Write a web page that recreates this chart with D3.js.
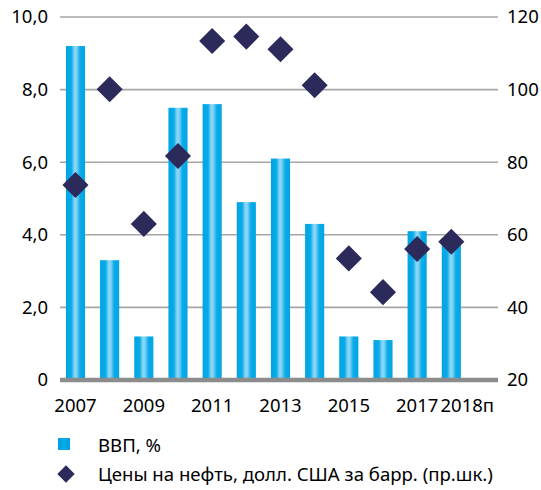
<!DOCTYPE html>
<html>
<head>
<meta charset="utf-8">
<script src="https://cdn.jsdelivr.net/npm/d3@7"></script>
<style>
  html, body { margin: 0; padding: 0; background: #fff; }
  svg { display: block; font-family: "Noto Sans", "Open Sans", sans-serif; }
</style>
</head>
<body>
<svg id="chart" width="541" height="490"></svg>
<script>
const years = ["2007","2008","2009","2010","2011","2012","2013","2014","2015","2016","2017","2018п"];
const gdp = [9.2, 3.3, 1.2, 7.5, 7.6, 4.9, 6.1, 4.3, 1.2, 1.1, 4.1, 3.9];
const oil = [73.7, 100.1, 63.0, 81.7, 113.4, 114.6, 111.1, 101.2, 53.5, 44.2, 56.1, 58.1];
const leftTicks = [0, 2, 4, 6, 8, 10];
const rightTicks = [20, 40, 60, 80, 100, 120];
const shownLabels = ["2007","2009","2011","2013","2015","2017","2018п"];
const legendLabels = ["ВВП, %", "Цены на нефть, долл. США за барр. (пр.шк.)"];

const svg = d3.select("#chart");
const plotLeft = 60, plotRight = 498, plotTop = 17, plotBottom = 380;

const x = d3.scaleBand().domain(years).range([58.4, 468.4]).paddingInner(0.44).paddingOuter(0.22);
const yL = d3.scaleLinear().domain([0, 10]).range([plotBottom, plotTop]);
const yR = d3.scaleLinear().domain([20, 120]).range([plotBottom, plotTop]);

// gradient for bars
const defs = svg.append("defs");
const grad = defs.append("linearGradient").attr("id", "barGrad").attr("x1", "0%").attr("x2", "100%").attr("y1", "0%").attr("y2", "0%");
[[0, "#00a5e5"], [0.28, "#08aae8"], [0.46, "#8ed8f7"], [0.56, "#7fd2f4"], [0.74, "#0aabe8"], [1, "#00a5e5"]]
  .forEach(([o, c]) => grad.append("stop").attr("offset", o).attr("stop-color", c));

// gridlines
const fmt = v => v === 0 ? "0" : d3.format(".1f")(v).replace(".", ",");
svg.append("g").selectAll("line").data(leftTicks.filter(t => t !== 0)).join("line")
  .attr("x1", plotLeft).attr("x2", plotRight)
  .attr("y1", d => yL(d)).attr("y2", d => yL(d))
  .attr("stroke", "#a6a6a6").attr("stroke-width", 1.6);

// left axis labels
svg.append("g").selectAll("text").data(leftTicks).join("text")
  .attr("x", 48).attr("y", d => yL(d)).attr("dy", "0.35em")
  .attr("text-anchor", "end").attr("font-size", 18.5).attr("fill", "#000")
  .text(fmt);

// right axis labels
svg.append("g").selectAll("text").data(rightTicks).join("text")
  .attr("x", 507).attr("y", d => yR(d)).attr("dy", "0.35em")
  .attr("text-anchor", "start").attr("font-size", 18.5).attr("fill", "#000")
  .text(d => d);

// bars
svg.append("g").selectAll("rect").data(years).join("rect")
  .attr("x", d => x(d)).attr("width", x.bandwidth())
  .attr("y", (d, i) => yL(gdp[i])).attr("height", (d, i) => yL(0) - yL(gdp[i]))
  .attr("fill", "url(#barGrad)");

// baseline axis
svg.append("line").attr("x1", plotLeft).attr("x2", plotRight)
  .attr("y1", plotBottom).attr("y2", plotBottom)
  .attr("stroke", "#8c8c8c").attr("stroke-width", 4.5);

// diamonds
const diamond = d3.symbol().type(d3.symbolSquare).size(340);
svg.append("g").selectAll("path").data(years).join("path")
  .attr("d", diamond)
  .attr("transform", (d, i) => `translate(${x(d) + x.bandwidth() / 2},${yR(oil[i])}) rotate(45)`)
  .attr("fill", "#2c2a5a");

// x labels
svg.append("g").selectAll("text").data(shownLabels).join("text")
  .attr("x", (d, i) => x(d) + x.bandwidth() / 2 + (i === shownLabels.length - 1 ? 16 : 0))
  .attr("y", 412)
  .attr("text-anchor", "middle").attr("font-size", 18.5).attr("fill", "#000")
  .text(d => d);

// legend
const lg = svg.append("g");
lg.append("rect").attr("x", 58).attr("y", 438).attr("width", 12).attr("height", 12).attr("fill", "#00a5e5");
lg.append("text").attr("x", 98).attr("y", 452).attr("font-size", 18.6).attr("fill", "#000").text(legendLabels[0]);
lg.append("path").attr("d", d3.symbol().type(d3.symbolSquare).size(150))
  .attr("transform", "translate(66,474) rotate(45)").attr("fill", "#2c2a5a");
lg.append("text").attr("x", 98).attr("y", 481).attr("font-size", 18.6).attr("fill", "#000").text(legendLabels[1]);
</script>
</body>
</html>
